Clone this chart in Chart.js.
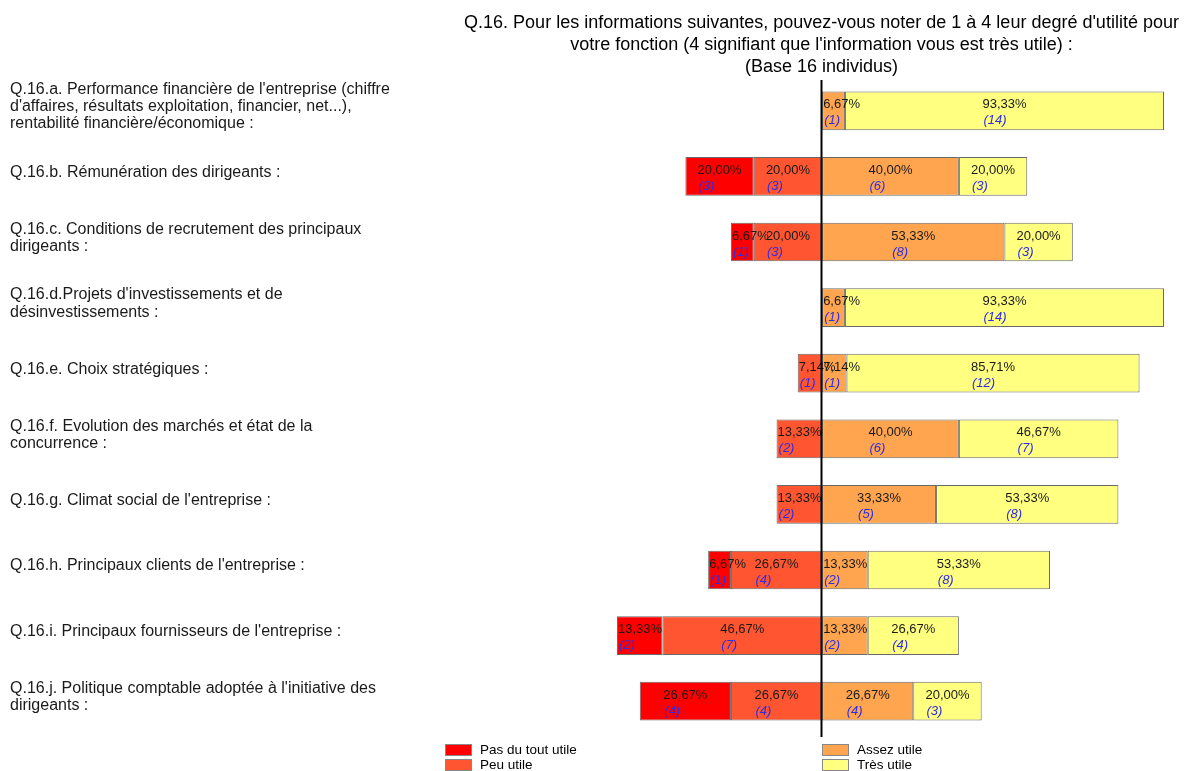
<!DOCTYPE html>
<html>
<head>
<meta charset="utf-8">
<script src="https://cdn.jsdelivr.net/npm/chart.js@4"></script>
<style>
  html, body { margin: 0; padding: 0; background: #fff; }
  #wrap { width: 1190px; height: 771px; position: relative; }
</style>
</head>
<body>
<div id="wrap"><canvas id="c"></canvas></div>
<script>
const titleLines = [
  "Q.16. Pour les informations suivantes, pouvez-vous noter de 1 à 4 leur degré d'utilité pour",
  "votre fonction (4 signifiant que l'information vous est très utile) :",
  "(Base 16 individus)"
];

const categories = [
  ["Q.16.a. Performance financière de l'entreprise (chiffre", "d'affaires, résultats exploitation, financier, net...),", "rentabilité financière/économique :"],
  ["Q.16.b. Rémunération des dirigeants :"],
  ["Q.16.c. Conditions de recrutement des principaux", "dirigeants :"],
  ["Q.16.d.Projets d'investissements et de", "désinvestissements :"],
  ["Q.16.e. Choix stratégiques :"],
  ["Q.16.f. Evolution des marchés et état de la", "concurrence :"],
  ["Q.16.g. Climat social de l'entreprise :"],
  ["Q.16.h. Principaux clients de l'entreprise :"],
  ["Q.16.i. Principaux fournisseurs de l'entreprise :"],
  ["Q.16.j. Politique comptable adoptée à l'initiative des", "dirigeants :"]
];

const seriesNames = ["Pas du tout utile", "Peu utile", "Assez utile", "Très utile"];

// percentages
const pasDuTout = [0, 20.00, 6.67, 0, 0, 0, 0, 6.67, 13.33, 26.67];
const peuUtile  = [0, 20.00, 20.00, 0, 7.14, 13.33, 13.33, 26.67, 46.67, 26.67];
const assezUtile = [6.67, 40.00, 53.33, 6.67, 7.14, 40.00, 33.33, 13.33, 13.33, 26.67];
const tresUtile  = [93.33, 20.00, 20.00, 93.33, 85.71, 46.67, 53.33, 53.33, 26.67, 20.00];

// counts
const nPasDuTout = [0, 3, 1, 0, 0, 0, 0, 1, 2, 4];
const nPeuUtile  = [0, 3, 3, 0, 1, 2, 2, 4, 7, 4];
const nAssez     = [1, 6, 8, 1, 1, 6, 5, 2, 2, 4];
const nTres      = [14, 3, 3, 14, 12, 7, 8, 8, 4, 3];

const colors = {
  pas: '#FF0000',
  peu: '#FF5530',
  assez: '#FFA54F',
  tres: '#FFFF80'
};

const FONT = '"Liberation Sans", Arial, Helvetica, sans-serif';

const datasets = [
  { label: seriesNames[1], data: peuUtile.map(v => -v), counts: nPeuUtile, raw: peuUtile, backgroundColor: colors.peu },
  { label: seriesNames[0], data: pasDuTout.map(v => -v), counts: nPasDuTout, raw: pasDuTout, backgroundColor: colors.pas },
  { label: seriesNames[2], data: assezUtile, counts: nAssez, raw: assezUtile, backgroundColor: colors.assez },
  { label: seriesNames[3], data: tresUtile, counts: nTres, raw: tresUtile, backgroundColor: colors.tres }
].map(d => Object.assign(d, {
  borderColor: '#6a6a6a',
  borderWidth: 1,
  borderSkipped: false,
  barPercentage: 0.59,
  categoryPercentage: 1.0
}));

const fmt = v => v.toFixed(2).replace('.', ',') + '%';

const labelPlugin = {
  id: 'segLabels',
  afterDatasetsDraw(chart) {
    const ctx = chart.ctx;
    ctx.save();
    chart.data.datasets.forEach((ds, di) => {
      const meta = chart.getDatasetMeta(di);
      meta.data.forEach((el, i) => {
        const raw = ds.raw[i];
        if (!raw) return;
        const p = el.getProps(['x', 'base', 'y', 'height'], true);
        const left = Math.min(p.x, p.base);
        const right = Math.max(p.x, p.base);
        const top = p.y - p.height / 2;
        const txt = fmt(raw);
        ctx.font = '13px ' + FONT;
        const w = ctx.measureText(txt).width;
        const tx = Math.max(left + 1, (left + right) / 2 - w / 2);
        ctx.textAlign = 'left';
        ctx.textBaseline = 'alphabetic';
        ctx.fillStyle = '#1a1a1a';
        ctx.fillText(txt, tx, top + 17);
        ctx.font = 'italic 13px ' + FONT;
        ctx.fillStyle = '#2d2de6';
        ctx.fillText('(' + ds.counts[i] + ')', tx + 1, top + 33);
      });
    });
    ctx.restore();
  }
};

const decoPlugin = {
  id: 'deco',
  afterDraw(chart) {
    const ctx = chart.ctx;
    const xs = chart.scales.x;
    const x0 = Math.round(xs.getPixelForValue(0)) - 0.5;
    const area = chart.chartArea;
    ctx.save();
    // zero line
    ctx.strokeStyle = '#000';
    ctx.lineWidth = 2;
    ctx.beginPath();
    ctx.moveTo(x0, area.top + 2);
    ctx.lineTo(x0, area.bottom + 3);
    ctx.stroke();

    // title
    ctx.fillStyle = '#000';
    ctx.font = '18px "Liberation Sans Narrow", "Liberation Sans", Arial, sans-serif';
    const w1 = ctx.measureText(titleLines[0]).width;
    const sx = Math.min(1, 733 / w1);
    ctx.textAlign = 'center';
    ctx.textBaseline = 'middle';
    titleLines.forEach((t, k) => {
      ctx.save();
      ctx.translate(x0, 23 + k * 22);
      ctx.scale(sx, 1);
      ctx.fillText(t, 0, 0);
      ctx.restore();
    });

    // legend (2 columns)
    const legendItems = [
      { name: seriesNames[0], color: colors.pas, x: 445, y: 744 },
      { name: seriesNames[1], color: colors.peu, x: 445, y: 759 },
      { name: seriesNames[2], color: colors.assez, x: x0 + 0.5, y: 744 },
      { name: seriesNames[3], color: colors.tres, x: x0 + 0.5, y: 759 }
    ];
    ctx.font = '13.5px ' + FONT;
    ctx.textAlign = 'left';
    ctx.textBaseline = 'middle';
    legendItems.forEach(it => {
      ctx.fillStyle = it.color;
      ctx.fillRect(it.x, it.y, 27, 12);
      ctx.strokeStyle = '#888';
      ctx.lineWidth = 1;
      ctx.strokeRect(it.x + 0.5, it.y + 0.5, 26, 11);
      ctx.fillStyle = '#000';
      ctx.fillText(it.name, it.x + 35, it.y + 6);
    });
    ctx.restore();
  }
};

new Chart(document.getElementById('c'), {
  type: 'bar',
  data: { labels: categories, datasets },
  options: {
    indexAxis: 'y',
    responsive: true,
    maintainAspectRatio: false,
    animation: false,
    layout: { padding: { left: 10, right: 26, top: 78, bottom: 37 } },
    plugins: {
      legend: { display: false },
      title: { display: false },
      tooltip: { enabled: false }
    },
    scales: {
      x: {
        stacked: true,
        min: -60,
        max: 100,
        display: false,
        grid: { display: false }
      },
      y: {
        stacked: true,
        grid: { display: false },
        border: { display: false },
        afterFit(scale) { scale.width = 607; },
        ticks: {
          crossAlign: 'far',
          labelOffset: -4,
          color: '#1a1a1a',
          font: { family: FONT, size: 16, lineHeight: 1.07 },
          autoSkip: false
        }
      }
    }
  },
  plugins: [labelPlugin, decoPlugin]
});
</script>
</body>
</html>
